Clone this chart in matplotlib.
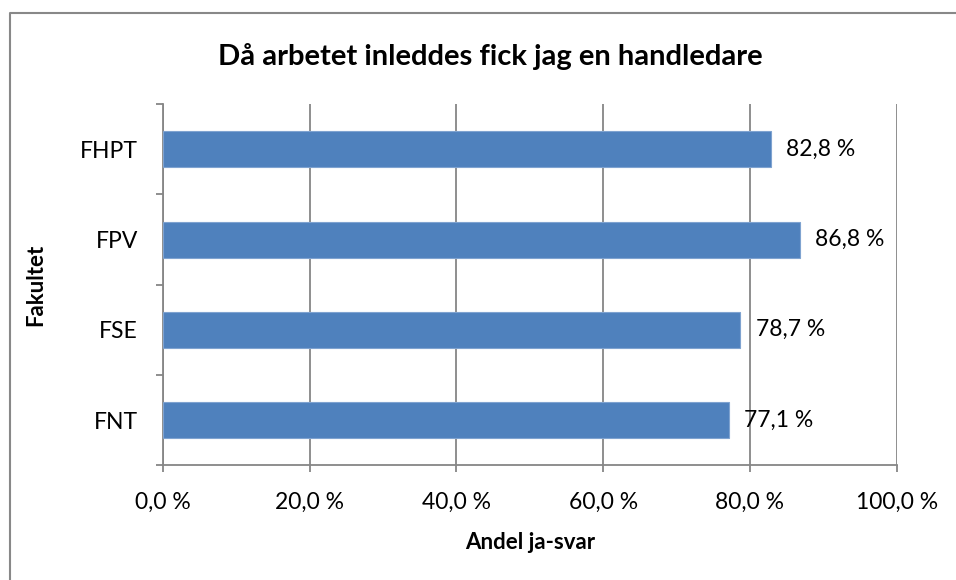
import matplotlib.pyplot as plt
from matplotlib.lines import Line2D
from matplotlib.ticker import FixedLocator, FuncFormatter

plt.rcParams['font.family'] = ['Lato', 'DejaVu Sans']

# data, top to bottom as in the chart
fakulteter = ["FHPT", "FPV", "FSE", "FNT"]
andel_ja = [82.8, 86.8, 78.7, 77.1]
x_ticks = [0, 20, 40, 60, 80, 100]

fig = plt.figure(figsize=(9.56, 5.80), dpi=100)
ax = fig.add_axes([0.1705, 0.198, 0.7675, 0.6223])

# bottom category first on the y axis
ypos = list(range(len(fakulteter)))[::-1]
ax.barh(ypos, andel_ja, height=0.4, color='#4F81BD', edgecolor='#7FA3D0',
        linewidth=0.8, zorder=3)

for y, v in zip(ypos, andel_ja):
    ax.text(v + 2.1, y, f"{v:.1f} %".replace('.', ','), va='center',
            ha='left', fontsize=16.5, zorder=4)

ax.set_xlim(0, 100)
ax.set_ylim(-0.5, len(fakulteter) - 0.5)
ax.set_xticks(x_ticks)
ax.xaxis.set_major_formatter(FuncFormatter(lambda v, p: f"{v:.1f} %".replace('.', ',')))
ax.set_yticks(ypos)
ax.set_yticklabels(fakulteter)
ax.yaxis.set_minor_locator(FixedLocator([i - 0.5 for i in range(len(fakulteter) + 1)]))

ax.tick_params(axis='y', which='major', length=0, pad=18, labelsize=16.5)
ax.tick_params(axis='y', which='minor', length=5, width=1.3, color='#868686')
ax.tick_params(axis='x', length=5, width=1.3, color='#868686', pad=14, labelsize=16.5)

ax.grid(axis='x', color='#868686', linewidth=1.3, zorder=0)
for s in ['top', 'right']:
    ax.spines[s].set_visible(False)
for s in ['left', 'bottom']:
    ax.spines[s].set_color('#868686')
    ax.spines[s].set_linewidth(1.3)

ax.set_xlabel("Andel ja-svar", fontsize=16, fontweight='bold', labelpad=14)
ax.set_ylabel("Fakultet", fontsize=16, fontweight='bold', labelpad=24)
fig.text(0.513, 0.902, "Då arbetet inleddes fick jag en handledare",
         ha='center', va='center', fontsize=21, fontweight='bold')

# chart border: only left and top edges fall inside the image
bx, by = 9.5 / 956, 1 - 13 / 580
fig.lines.append(Line2D([bx, bx, 1.01], [-0.01, by, by], transform=fig.transFigure,
                        color='#888888', linewidth=1.5))

fig.savefig("out.png", dpi=100)
